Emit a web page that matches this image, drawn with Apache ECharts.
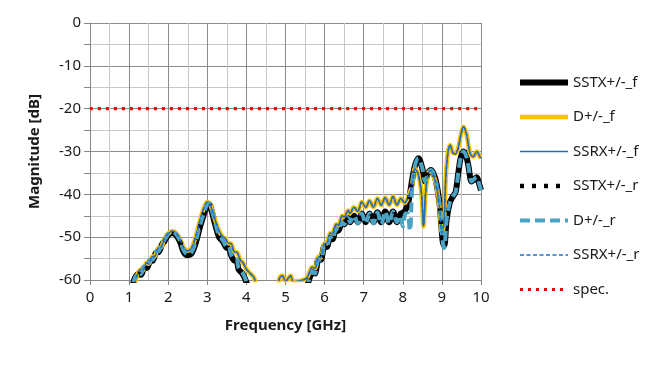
<!DOCTYPE html>
<html>
<head>
<meta charset="utf-8">
<script src="https://cdn.jsdelivr.net/npm/echarts@6/dist/echarts.min.js"></script>
<style>html,body{margin:0;padding:0;background:#fff}#c{width:665px;height:390px}</style>
</head>
<body>
<div id="c"></div>
<script>
// Lower curve (SSTX family): [GHz, dB]
const curveLower = [
[1.1,-61],[1.15,-59.5],[1.25,-58.5],[1.3,-58.8],[1.4,-57],[1.45,-57.2],[1.55,-55.5],[1.6,-55.5],[1.7,-53.5],[1.75,-53.5],[1.85,-51.5],[1.9,-51],[2.0,-49.5],[2.1,-49],[2.2,-49.5],[2.3,-51],[2.4,-53.5],[2.5,-54.2],[2.6,-53.8],[2.7,-51.5],[2.8,-48],[2.9,-45],[3.0,-42.5],[3.05,-42.3],[3.1,-43.5],[3.2,-47],[3.3,-50],[3.35,-50.5],[3.4,-51],[3.5,-52.5],[3.55,-52.2],[3.6,-54],[3.7,-55.5],[3.75,-55.5],[3.8,-57.5],[3.9,-58.5],[4.0,-60.5],[4.1,-64],
[5.45,-64],[5.6,-60],[5.7,-58],[5.75,-58.5],[5.85,-55],[5.9,-55.3],[6.0,-52],[6.05,-52.3],[6.15,-50],[6.2,-50.5],[6.3,-48],[6.35,-48.5],[6.45,-46.5],[6.5,-47],[6.6,-45.5],[6.65,-46.5],[6.75,-45],[6.85,-46.5],[6.95,-44.5],[7.05,-46.5],[7.15,-44.5],[7.25,-46.5],[7.35,-44.2],[7.45,-46.5],[7.55,-44],[7.65,-46.5],[7.75,-44],[7.85,-46.5],[7.95,-44.5],[8.05,-44],[8.15,-41.5],[8.25,-36],[8.32,-33],[8.4,-31.6],[8.5,-34],[8.57,-37],[8.65,-35],[8.72,-34.3],[8.82,-36],[8.9,-39.5],[8.95,-43],[9.02,-51],[9.06,-52],[9.12,-46],[9.2,-42],[9.28,-40.5],[9.35,-39.5],[9.42,-35],[9.48,-31.5],[9.55,-30],[9.62,-31],[9.68,-33.5],[9.76,-37],[9.82,-36.5],[9.89,-36],[9.95,-37.5],[10,-39]
];
// D+/-_r follows the lower curve with a few deeper dips
const curveDr = [
[1.1,-61],[1.15,-59.5],[1.25,-58.3],[1.3,-58.6],[1.4,-56.8],[1.45,-57],[1.55,-55.3],[1.6,-55.3],[1.7,-53.3],[1.75,-53.3],[1.85,-51.3],[1.9,-50.8],[2.0,-49.3],[2.1,-48.8],[2.2,-49.3],[2.3,-50.8],[2.4,-53.2],[2.5,-54],[2.6,-53.5],[2.7,-51.2],[2.8,-47.7],[2.9,-44.7],[3.0,-42.3],[3.05,-42.1],[3.1,-43.2],[3.2,-46.7],[3.3,-49.7],[3.35,-50.2],[3.4,-50.8],[3.5,-52.2],[3.55,-52],[3.6,-53.8],[3.7,-55.3],[3.75,-55.3],[3.8,-57.2],[3.9,-58.3],[4.0,-60.3],[4.1,-64],
[5.45,-64],[5.6,-60],[5.7,-58],[5.75,-58.5],[5.85,-55],[5.9,-55.3],[6.0,-52],[6.05,-52.3],[6.15,-50],[6.2,-50.5],[6.3,-48],[6.35,-48.5],[6.45,-46.5],[6.5,-47],[6.6,-45.5],[6.65,-46.5],[6.75,-45],[6.85,-46.8],[6.95,-44.5],[7.05,-46.8],[7.15,-44.5],[7.25,-46.8],[7.35,-44.2],[7.45,-47],[7.55,-44],[7.65,-46.8],[7.75,-44],[7.85,-46.5],[7.93,-45],[8.0,-47.5],[8.07,-44.5],[8.12,-44.5],[8.18,-48.5],[8.25,-37],[8.32,-33],[8.4,-31.6],[8.5,-34],[8.57,-37],[8.65,-35],[8.72,-34.3],[8.82,-36],[8.9,-39.5],[8.95,-43],[9.02,-51],[9.06,-52.5],[9.12,-46],[9.2,-42],[9.28,-40.5],[9.35,-39.5],[9.42,-35],[9.48,-31.5],[9.55,-30],[9.62,-31],[9.68,-33.5],[9.76,-37],[9.82,-36.5],[9.89,-36],[9.95,-37.5],[10,-39]
];
// Upper curve (D+/-_f, SSRX family)
const curveUpper = [
[1.15,-61],[1.2,-59],[1.3,-57.5],[1.35,-57.8],[1.45,-56],[1.5,-56.2],[1.6,-54.5],[1.65,-54.5],[1.75,-52.5],[1.8,-52.5],[1.9,-50.5],[2.0,-49.2],[2.1,-48.6],[2.2,-49],[2.3,-50.5],[2.4,-52.5],[2.5,-53.2],[2.6,-52.5],[2.7,-50],[2.8,-46.5],[2.9,-43.5],[3.0,-41.8],[3.05,-42],[3.1,-43],[3.2,-46],[3.3,-48.5],[3.4,-50],[3.45,-50.2],[3.55,-51.5],[3.6,-51.5],[3.7,-53.5],[3.75,-53.5],[3.85,-55.5],[3.9,-55.8],[4.0,-57.5],[4.05,-58],[4.1,-58.5],[4.2,-59.5],[4.3,-63],
[4.75,-63],[4.85,-59.5],[4.92,-59],[5.0,-60.3],[5.08,-59.5],[5.13,-59],[5.2,-60.4],[5.3,-60.3],[5.45,-60],[5.55,-59.5],[5.6,-58.5],[5.68,-57],[5.75,-57.3],[5.85,-54.5],[5.9,-54.8],[6.0,-51.5],[6.05,-51.5],[6.15,-49],[6.2,-49.2],[6.3,-47],[6.35,-47.3],[6.45,-45],[6.5,-45.3],[6.6,-43.8],[6.65,-44.5],[6.75,-43],[6.85,-44],[6.95,-41.8],[7.05,-43],[7.15,-41.5],[7.25,-43],[7.35,-41],[7.45,-42.5],[7.55,-40.8],[7.65,-42.5],[7.75,-40.5],[7.85,-42.5],[7.95,-41],[8.05,-42],[8.12,-41],[8.23,-38.2],[8.31,-34],[8.4,-35.5],[8.48,-40],[8.53,-47.5],[8.58,-40],[8.65,-35],[8.72,-34.5],[8.8,-36],[8.87,-38.5],[8.95,-44],[9.0,-49],[9.05,-47],[9.1,-36],[9.15,-30.5],[9.21,-28.5],[9.29,-30.4],[9.35,-30.5],[9.42,-29],[9.5,-25.5],[9.55,-24.2],[9.63,-26],[9.72,-30.4],[9.8,-31.2],[9.89,-30],[9.97,-31.2],[10,-31.5]
];
const specLine = [[0,-20],[10,-20]];
const seriesNames = ['SSTX+/-_f','D+/-_f','SSRX+/-_f','SSTX+/-_r','D+/-_r','SSRX+/-_r','spec.'];
const xTicks = [0,1,2,3,4,5,6,7,8,9,10];
const yTicks = [0,-10,-20,-30,-40,-50,-60];

const FONT = '"Noto Sans", "Open Sans", sans-serif';
const styles = [
  { color: '#000000', width: 6, type: 'solid', z: 2 },
  { color: '#FFC000', width: 4.5, type: 'solid', z: 3 },
  { color: '#2A6BA8', width: 1.5, type: 'solid', z: 4 },
  { color: '#000000', width: 4.5, type: [4, 8], z: 5 },
  { color: '#4BA3C3', width: 4, type: [10, 5], z: 6 },
  { color: '#1F6FC0', width: 1.5, type: [4, 2.5], z: 7 },
  { color: '#FF0000', width: 3.2, type: [3, 5], z: 8 }
];
const dataSets = [curveLower, curveUpper, curveUpper, curveLower, curveDr, curveUpper, specLine];
const series = seriesNames.map((n, i) => ({
  name: n, type: 'line', data: dataSets[i], smooth: 0.35,
  showSymbol: false, symbol: 'none', clip: true, z: styles[i].z, animation: false,
  lineStyle: { color: styles[i].color, width: styles[i].width, type: styles[i].type, join: 'round' },
  itemStyle: { color: styles[i].color }
}));
const legendData = seriesNames.map((n, i) => ({
  name: n,
  itemStyle: { opacity: 0 },
  lineStyle: { color: styles[i].color, width: styles[i].width, type: styles[i].type, opacity: 1 }
}));

const chart = echarts.init(document.getElementById('c'), null, { renderer: 'canvas' });
chart.setOption({
  animation: false,
  backgroundColor: '#ffffff',
  grid: { left: 90, right: 184, top: 23, bottom: 110, containLabel: false },
  legend: {
    orient: 'vertical', left: 512, top: 70, itemWidth: 48, itemHeight: 14, itemGap: 19.5,
    itemStyle: { opacity: 0 },
    textStyle: { fontFamily: FONT, fontSize: 15, color: '#1a1a1a' },
    data: legendData
  },
  xAxis: {
    type: 'value', min: xTicks[0], max: xTicks[xTicks.length-1], interval: 1,
    name: 'Frequency [GHz]', nameLocation: 'middle', nameGap: 38,
    nameTextStyle: { fontFamily: FONT, fontSize: 15, fontWeight: 'bold', color: '#1a1a1a' },
    axisLine: { show: true, onZero: false, lineStyle: { color: '#868686', width: 1 } },
    axisTick: { show: true, length: 5, lineStyle: { color: '#868686' } },
    axisLabel: { fontFamily: FONT, fontSize: 15, color: '#1a1a1a', margin: 10 },
    splitLine: { show: true, lineStyle: { color: '#8c8c8c', width: 1 } },
    minorTick: { show: false, splitNumber: 2 },
    minorSplitLine: { show: true, lineStyle: { color: '#c8c8c8', width: 1 } }
  },
  yAxis: {
    type: 'value', min: yTicks[yTicks.length-1], max: yTicks[0], interval: 10,
    name: 'Magnitude [dB]', nameLocation: 'middle', nameGap: 48, nameRotate: 90,
    nameTextStyle: { fontFamily: FONT, fontSize: 15, fontWeight: 'bold', color: '#1a1a1a' },
    axisLine: { show: true, lineStyle: { color: '#868686', width: 1 } },
    axisTick: { show: true, length: 6, lineStyle: { color: '#868686' } },
    minorTick: { show: true, splitNumber: 2, length: 6, lineStyle: { color: '#868686' } },
    axisLabel: { fontFamily: FONT, fontSize: 15, color: '#1a1a1a', margin: 9 },
    splitLine: { show: true, lineStyle: { color: '#8c8c8c', width: 1 } },
    minorSplitLine: { show: true, lineStyle: { color: '#c8c8c8', width: 1 } }
  },
  series: series
});
</script>
</body>
</html>
